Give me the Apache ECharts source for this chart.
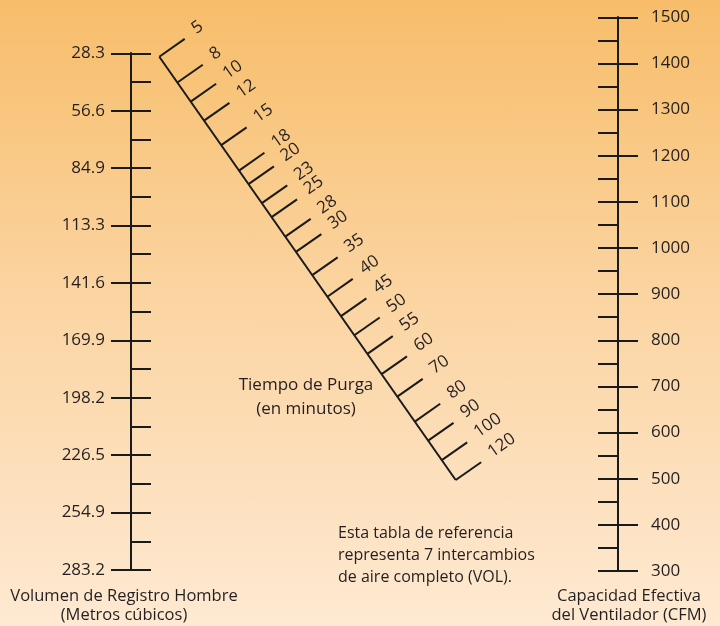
<!DOCTYPE html>
<html>
<head>
<meta charset="utf-8">
<script src="https://cdn.jsdelivr.net/npm/echarts@6/dist/echarts.min.js"></script>
<style>
  html, body { margin: 0; padding: 0; }
  #chart { width: 720px; height: 626px; background: linear-gradient(to bottom, #f7bd6a 0%, #fbd39f 45%, #fee9d2 100%); }
</style>
</head>
<body>
<div id="chart"></div>
<script>
// left scale: room volume (m3), one step = 1000 ft3
var volMin = 28.3168, volMax = 283.168, volStep = 28.3168;
var volLabels = ['28.3', '56.6', '84.9', '113.3', '141.6', '169.9', '198.2', '226.5', '254.9', '283.2'];
// right scale: fan capacity (CFM)
var cfmMin = 300, cfmMax = 1500, cfmStep = 100;
// diagonal scale: purge time (minutes) and where each tick sits along it (0 = top, 1 = bottom)
var purgaLabels = [5, 8, 10, 12, 15, 18, 20, 23, 25, 28, 30, 35, 40, 45, 50, 55, 60, 70, 80, 90, 100, 120];
var purgaPos = [0, 0.061, 0.106, 0.151, 0.209, 0.269, 0.301, 0.346, 0.379, 0.425, 0.461, 0.516, 0.567, 0.613, 0.658, 0.702, 0.750, 0.803, 0.862, 0.907, 0.953, 1];

var ink = '#1a1a1a';
var txt = '#231f20';
var font = '"Open Sans", "Noto Sans", sans-serif';

// ends of the diagonal scale, in the helper grid's units (= pixels)
var purgaStart = [159.3, 56.7];
var purgaEnd = [455.7, 480];
var tickLen = 31;
var gw = 10; // width of the narrow grids holding the vertical scales

// one side of a vertical scale: ticks point outward from `pos`
function scaleAxis(grid, min, max, step, pos, offset, withLabels, minor, margin, fmt) {
  return {
    gridIndex: grid, type: 'value', min: min, max: max, interval: step,
    inverse: grid === 0, position: pos, offset: offset,
    axisLine: { show: true, onZero: false, lineStyle: { color: ink, width: 2 } },
    axisTick: { show: true, inside: false, length: 20, lineStyle: { color: ink, width: 2 } },
    minorTick: { show: minor, splitNumber: 2, length: 20, lineStyle: { color: ink, width: 2 } },
    axisLabel: {
      show: withLabels, margin: margin, fontSize: 17, color: txt, fontFamily: font,
      formatter: fmt
    },
    splitLine: { show: false }
  };
}

function volFmt(v) {
  return volLabels[Math.round((v - volMin) / volStep)];
}

var chart = echarts.init(document.getElementById('chart'));

var option = {
  animation: false,
  grid: [
    { left: 131, top: 53.3, width: gw, height: 516.7 },
    { left: 618 - gw, top: 17.3, width: gw, height: 553.7 },
    { left: 0, top: 0, right: 0, bottom: 0 }
  ],
  xAxis: [
    { gridIndex: 0, type: 'value', show: false },
    { gridIndex: 1, type: 'value', show: false },
    { gridIndex: 2, type: 'value', min: 0, max: 720, show: false }
  ],
  yAxis: [
    scaleAxis(0, volMin, volMax, volStep, 'left', 0, true, false, 26, volFmt),
    scaleAxis(0, volMin, volMax, volStep, 'right', -gw, false, true, 26),
    scaleAxis(1, cfmMin, cfmMax, cfmStep, 'right', 0, true, false, 33, function (v) { return String(v); }),
    scaleAxis(1, cfmMin, cfmMax, cfmStep, 'left', -gw, false, true, 33),
    { gridIndex: 2, type: 'value', min: 0, max: 626, inverse: true, show: false }
  ],
  series: [
    {
      type: 'line', xAxisIndex: 2, yAxisIndex: 4, symbol: 'none',
      lineStyle: { color: ink, width: 2 },
      data: [purgaStart, purgaEnd]
    },
    {
      type: 'custom', xAxisIndex: 2, yAxisIndex: 4,
      data: purgaLabels.map(function (v, i) { return [v, purgaPos[i]]; }),
      renderItem: function (params, api) {
        var a = api.coord(purgaStart), b = api.coord(purgaEnd);
        var dx = b[0] - a[0], dy = b[1] - a[1];
        var len = Math.sqrt(dx * dx + dy * dy);
        var v = [dx / len, dy / len];       // along the scale
        var u = [v[1], -v[0]];              // tick direction (up-right)
        var t = api.value(1);
        var p = [a[0] + dx * t, a[1] + dy * t];
        var q = [p[0] + u[0] * tickLen, p[1] + u[1] * tickLen];
        var lx = q[0] + u[0] * 12 - v[0] * 2;
        var ly = q[1] + u[1] * 12 - v[1] * 2;
        return {
          type: 'group',
          children: [
            { type: 'line', shape: { x1: p[0], y1: p[1], x2: q[0], y2: q[1] },
              style: { stroke: ink, lineWidth: 2 } },
            { type: 'text', x: lx, y: ly, rotation: Math.atan2(-u[1], u[0]),
              style: { text: String(api.value(0)), font: '17px ' + font, fill: txt,
                       align: 'left', verticalAlign: 'middle' } }
          ]
        };
      }
    }
  ],
  graphic: [
    { type: 'text', x: 306, y: 397, style: { text: 'Tiempo de Purga\n(en minutos)', font: '17px ' + font,
      fill: txt, align: 'center', verticalAlign: 'middle', lineHeight: 24 } },
    { type: 'text', x: 338, y: 522, style: { text: 'Esta tabla de referencia\nrepresenta 7 intercambios\nde aire completo (VOL).',
      font: '16px ' + font, fill: txt, align: 'left', verticalAlign: 'top', lineHeight: 22 } },
    { type: 'text', x: 124, y: 587, style: { text: 'Volumen de Registro Hombre\n(Metros cúbicos)', font: '16.5px ' + font,
      fill: txt, align: 'center', verticalAlign: 'top', lineHeight: 19 } },
    { type: 'text', x: 629, y: 587, style: { text: 'Capacidad Efectiva\ndel Ventilador (CFM)', font: '16.5px ' + font,
      fill: txt, align: 'center', verticalAlign: 'top', lineHeight: 19 } }
  ]
};

chart.setOption(option);
</script>
</body>
</html>
